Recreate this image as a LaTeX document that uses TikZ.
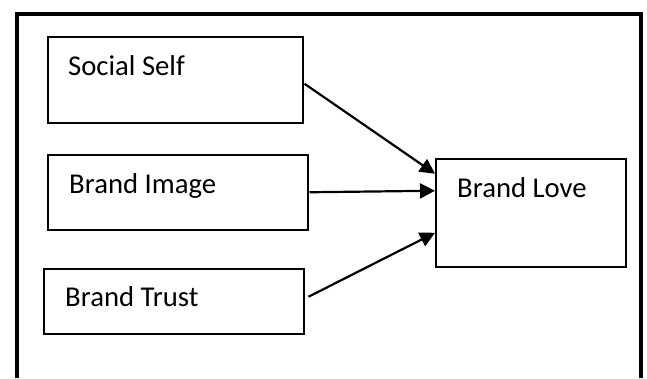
\documentclass[tikz,border=0pt]{standalone}
\usepackage{fontspec}
\setmainfont{Carlito}
\usetikzlibrary{arrows.meta}
\begin{document}
\begin{tikzpicture}[x=1pt,y=-1pt,
  frame/.style={line width=4.5pt},
  box/.style={draw, line width=1.5pt, rectangle, anchor=north west, inner sep=0pt},
  txt/.style={anchor=base west, inner sep=0pt, font=\fontsize{28.7}{34}\selectfont},
  link/.style={line width=2.2pt, -{Triangle[length=15pt,width=15pt]}}
]
\useasboundingbox (0,0) rectangle (647,378);
\fill[white] (0,0) rectangle (647,378);

% outer frame, open at the bottom
\coordinate (fbl) at (17,378);
\coordinate (ftl) at (17,14);
\coordinate (ftr) at (641,14);
\coordinate (fbr) at (641,378);
\draw[frame] (fbl) -- (ftl) -- (ftr) -- (fbr);

% boxes
\node[box, minimum width=255pt, minimum height=86pt] (ss) at (47,36) {};
\node[box, minimum width=260pt, minimum height=75pt] (bi) at (47,154) {};
\node[box, minimum width=260pt, minimum height=65pt] (bt) at (43,268) {};
\node[box, minimum width=190pt, minimum height=108pt] (bl) at (435,158) {};

% labels
\node[txt] (ssT) at ([xshift=21pt,yshift=-39pt]ss.north west) {Social Self};
\node[txt] (biT) at ([xshift=22pt,yshift=-39pt]bi.north west) {Brand Image};
\node[txt] (btT) at ([xshift=22pt,yshift=-38pt]bt.north west) {Brand Trust};
\node[txt] (blT) at ([xshift=22pt,yshift=-39pt]bl.north west) {Brand Love};

% connectors
\draw[link] ([xshift=1pt,yshift=-4pt]ss.east) -- ([yshift=39pt]bl.west);
\draw[link] ([xshift=1pt]bi.east) -- ([yshift=22pt]bl.west);
\draw[link] ([xshift=4pt,yshift=4.5pt]bt.east) -- ([yshift=-20pt]bl.west);
\end{tikzpicture}
\end{document}
